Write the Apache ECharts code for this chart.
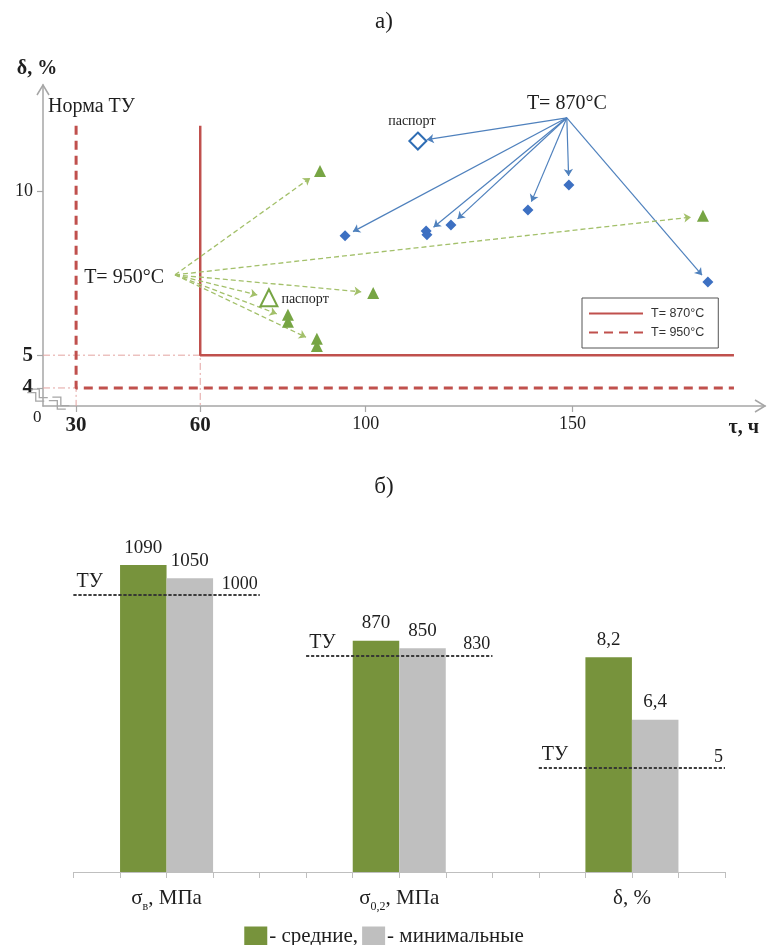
<!DOCTYPE html>
<html><head><meta charset="utf-8">
<script src="https://cdn.jsdelivr.net/npm/echarts@6/dist/echarts.min.js"></script>
<style>html,body{margin:0;padding:0;background:#fff}#c{width:768px;height:945px}</style>
</head><body><div id="c"></div>
<script>
// ---------- data: chart а) ----------
const xTickValues = [30, 60, 100, 150];
const xBoldTicks = [30, 60];
const yTickValues = [4, 5, 10];
const yBoldTicks = [4, 5];
const limit870 = [[60, 12], [60, 5], [189, 5]];
const limit950 = [[30, 12], [30, 4], [189, 4]];
const guide5 = [[22, 5], [60, 5], [60, 3.45]];
const guide4 = [[22, 4], [30, 4], [30, 3.45]];
const diamonds870 = [[95.0, 8.64], [114.6, 8.79], [114.8, 8.67], [120.6, 8.97], [139.2, 9.43], [149.1, 10.19], [182.7, 7.23]];
const passport870 = [[112.6, 11.53]];
const origin870 = [148.6, 12.24];
const arrowTargets870 = [[112.6, 11.53], [95.0, 8.64], [114.7, 8.73], [120.6, 8.97], [139.2, 9.43], [149.1, 10.19], [182.7, 7.23]];
const triangles950 = [[88.95, 10.62], [181.5, 9.25], [101.8, 6.9], [81.2, 6.23], [81.2, 6.02], [88.2, 5.5], [88.2, 5.28]];
const passport950 = [[76.6, 6.75]];
const origin950 = [53.9, 7.45];
const arrowTargets950 = [[88.95, 10.62], [181.5, 9.25], [101.8, 6.9], [76.6, 6.75], [81.2, 6.13], [88.2, 5.39]];

// ---------- data: chart б) ----------
const categories = ['σв, МПа', 'σ0,2, МПа', 'δ, %'];
const categorySubs = ['в', '0,2', ''];
const avgValues = [1090, 870, 8.2];
const minValues = [1050, 850, 6.4];
const tuValues = [1000, 830, 5];
const legendLabels = {'средние': '- средние,', 'минимальные': '- минимальные'};

const SERIF = '"Liberation Serif", "Times New Roman", serif';
const SANS = '"Liberation Sans", Arial, sans-serif';
const TXT = '#1e1e1e';
const RED = '#c0504d';
const fmt = v => String(v).replace('.', ',');

const chart = echarts.init(document.getElementById('c'), null, {renderer: 'canvas'});

const series = [
  {name: 'T= 870°C', type: 'line', xAxisIndex: 0, yAxisIndex: 0, data: limit870, symbol: 'none',
   itemStyle: {color: RED}, lineStyle: {color: RED, width: 2.5}, z: 3, silent: true},
  {name: 'T= 950°C', type: 'line', xAxisIndex: 0, yAxisIndex: 0, data: limit950, symbol: 'none',
   itemStyle: {color: RED}, lineStyle: {color: RED, width: 3, type: [9, 6]}, z: 3, silent: true},
  {name: 'g5', type: 'line', xAxisIndex: 0, yAxisIndex: 0, data: guide5, symbol: 'none',
   lineStyle: {color: '#e3a3a1', width: 1, type: [7, 3, 2, 3]}, z: 2, silent: true},
  {name: 'g4', type: 'line', xAxisIndex: 0, yAxisIndex: 0, data: guide4, symbol: 'none',
   lineStyle: {color: '#e3a3a1', width: 1, type: [7, 3, 2, 3]}, z: 2, silent: true},
  {name: 'd870', type: 'scatter', xAxisIndex: 0, yAxisIndex: 0, data: diamonds870, symbol: 'diamond', symbolSize: 11,
   itemStyle: {color: '#3d70c2', opacity: 1}, z: 5},
  {name: 'p870', type: 'scatter', xAxisIndex: 0, yAxisIndex: 0, data: passport870, symbol: 'diamond', symbolSize: 17,
   itemStyle: {color: '#fff', borderColor: '#2e6db4', borderWidth: 2, opacity: 1}, z: 5,
   label: {show: true, formatter: 'паспорт', position: 'top', distance: 3, offset: [-6, 0],
     fontFamily: SERIF, fontSize: 14, color: TXT}},
  {name: 't950', type: 'scatter', xAxisIndex: 0, yAxisIndex: 0, data: triangles950, symbol: 'triangle', symbolSize: 12,
   itemStyle: {color: '#77a544', opacity: 1}, z: 5},
  {name: 'p950', type: 'scatter', xAxisIndex: 0, yAxisIndex: 0, data: passport950, symbol: 'triangle', symbolSize: 17,
   itemStyle: {color: '#fff', borderColor: '#77a544', borderWidth: 2, opacity: 1}, z: 5,
   label: {show: true, formatter: 'паспорт', position: 'right', distance: 3, offset: [0, 2],
     fontFamily: SERIF, fontSize: 14, color: TXT}},
  {name: 'o870', type: 'scatter', xAxisIndex: 0, yAxisIndex: 0, data: [origin870], symbolSize: 0, z: 6,
   itemStyle: {opacity: 1},
   label: {show: true, formatter: 'T= 870°C', position: 'top', distance: 4, fontFamily: SERIF, fontSize: 20, color: TXT}},
  {name: 'o950', type: 'scatter', xAxisIndex: 0, yAxisIndex: 0, data: [origin950], symbolSize: 0, z: 6,
   itemStyle: {opacity: 1},
   label: {show: true, formatter: 'T= 950°C', position: 'left', distance: 11, offset: [0, 3], fontFamily: SERIF, fontSize: 20, color: TXT}}
];

for (let i = 0; i < categories.length; i++) {
  const barLabel = {show: true, position: 'top', distance: 8, fontFamily: SERIF, fontSize: 19, color: TXT,
    formatter: p => fmt(p.value[1])};
  series.push({
    name: 'средние', type: 'bar', xAxisIndex: 1, yAxisIndex: 1 + i, barWidth: 46.5, barGap: '-100%',
    data: [[1.5 + 5 * i, avgValues[i]]], itemStyle: {color: '#77933c'}, label: barLabel,
    markLine: {
      silent: true, symbol: ['none', 'none'], animation: false,
      lineStyle: {color: '#333', type: [3, 2], width: 1.5},
      label: {show: true, fontFamily: SERIF, color: TXT},
      data: [
        [{coord: [5 * i, tuValues[i]], label: {position: 'insideStartTop', formatter: 'ТУ', fontSize: 20, distance: 3}},
         {coord: [5 * i + 4, tuValues[i]]}],
        [{coord: [5 * i, tuValues[i]], label: {position: 'insideEndTop', formatter: fmt(tuValues[i]), fontSize: 18, distance: 2}},
         {coord: [5 * i + 4, tuValues[i]]}]
      ]
    }
  });
  series.push({
    name: 'минимальные', type: 'bar', xAxisIndex: 1, yAxisIndex: 1 + i, barWidth: 46.5, barGap: '-100%',
    data: [[2.5 + 5 * i, minValues[i]]], itemStyle: {color: '#bfbfbf'}, label: barLabel
  });
}

const axisGray = '#a6a6a6';
const option = {
  animation: false,
  backgroundColor: '#fff',
  title: [
    {text: 'а)', left: 'center', top: 10, padding: 0, textStyle: {fontFamily: SERIF, fontSize: 23, fontWeight: 'normal', color: TXT}},
    {text: 'б)', left: 'center', top: 475, padding: 0, textStyle: {fontFamily: SERIF, fontSize: 23, fontWeight: 'normal', color: TXT}}
  ],
  legend: [
    {data: ['T= 870°C', 'T= 950°C'], orient: 'vertical', left: 582, top: 298, padding: [9, 14, 9, 6], itemGap: 6,
     itemWidth: 54, itemHeight: 14, borderColor: '#555', borderWidth: 1, selectedMode: false,
     itemStyle: {opacity: 0},
     textStyle: {fontFamily: SANS, fontSize: 12.5, color: '#333', padding: [0, 0, 0, 3]}},
    {data: ['средние', 'минимальные'], left: 'center', top: 921, itemGap: 4, itemWidth: 23, itemHeight: 20,
     selectedMode: false, icon: 'rect', formatter: n => legendLabels[n],
     textStyle: {fontFamily: SERIF, fontSize: 21, color: TXT, padding: [0, 0, 0, -3]}}
  ],
  grid: [
    {left: 43, top: 85, width: 722, height: 321},
    {left: 73.5, top: 540, width: 651.5, height: 332}
  ],
  xAxis: [
    {gridIndex: 0, type: 'value', min: 22, max: 196.5, splitLine: {show: false},
     axisLine: {show: true, onZero: false, lineStyle: {color: axisGray, width: 1.5}},
     axisTick: {show: true, customValues: xTickValues, length: 6, lineStyle: {color: axisGray, width: 1.2}},
     axisLabel: {customValues: xTickValues, margin: 9,
       formatter: v => (xBoldTicks.includes(v) ? '{b|' + v + '}' : '{n|' + v + '}'),
       rich: {b: {fontFamily: SERIF, fontSize: 21, fontWeight: 'bold', color: TXT},
              n: {fontFamily: SERIF, fontSize: 18, color: TXT}}},
     name: 'τ, ч', nameLocation: 'end', nameGap: -6,
     nameTextStyle: {fontFamily: SERIF, fontSize: 20, fontWeight: 'bold', color: TXT, align: 'right', verticalAlign: 'top', padding: [12, 0, 0, 0]}},
    {gridIndex: 1, type: 'value', min: 0, max: 14, splitLine: {show: false},
     axisLine: {show: true, onZero: false, lineStyle: {color: '#bfbfbf', width: 1.2}},
     axisTick: {show: true, customValues: Array.from({length: 15}, (_, k) => k), length: 6, lineStyle: {color: '#bfbfbf'}},
     axisLabel: {customValues: [2, 7, 12], margin: 13,
       formatter: v => {
         const k = Math.round((v - 2) / 5);
         const c = categories[k], s = categorySubs[k];
         return '{m|' + (s ? c.replace(s, '}{s|' + s + '}{m|') : c) + '}';
       },
       rich: {m: {fontFamily: SERIF, fontSize: 21, color: TXT, lineHeight: 24, verticalAlign: 'bottom'},
              s: {fontFamily: SERIF, fontSize: 12, color: TXT, lineHeight: 24, verticalAlign: 'bottom', padding: [0, 0, -4, 0]}}}}
  ],
  yAxis: [
    {gridIndex: 0, type: 'value', min: 3.45, max: 13.24, splitLine: {show: false},
     axisLine: {show: true, onZero: false, lineStyle: {color: axisGray, width: 1.5}},
     axisTick: {show: true, customValues: yTickValues, length: 6, lineStyle: {color: axisGray, width: 1.2}},
     axisLabel: {customValues: yTickValues, margin: 10,
       formatter: v => (yBoldTicks.includes(v) ? '{b|' + v + '}' : '{n|' + v + '}'),
       rich: {b: {fontFamily: SERIF, fontSize: 21, fontWeight: 'bold', color: TXT},
              n: {fontFamily: SERIF, fontSize: 18, color: TXT}}},
     name: 'δ, %', nameLocation: 'end', nameGap: 6,
     nameTextStyle: {fontFamily: SERIF, fontSize: 20, fontWeight: 'bold', color: TXT, align: 'center', padding: [0, 12, 0, 0]}},
    {gridIndex: 1, type: 'value', min: 170, max: 1165, show: false},
    {gridIndex: 1, type: 'value', min: 250, max: 1140, show: false},
    {gridIndex: 1, type: 'value', min: 2, max: 11.59, show: false}
  ],
  series: series
};
chart.setOption(option);

// ---------- arrows and decorations, placed through the axes ----------
const f0 = {xAxisIndex: 0, yAxisIndex: 0};
function tip(origin, target, gap) {
  const o = chart.convertToPixel(f0, origin), t = chart.convertToPixel(f0, target);
  const dx = t[0] - o[0], dy = t[1] - o[1], L = Math.hypot(dx, dy);
  return chart.convertFromPixel(f0, [t[0] - dx / L * gap, t[1] - dy / L * gap]);
}
series.push({
  name: 'a870', type: 'lines', coordinateSystem: 'cartesian2d', xAxisIndex: 0, yAxisIndex: 0, z: 4, silent: true,
  symbol: ['none', 'arrow'], symbolSize: 7,
  lineStyle: {color: '#4f81bd', width: 1.2, opacity: 1, curveness: 0},
  data: arrowTargets870.map(t => ({coords: [origin870, tip(origin870, t, 9)]}))
});
series.push({
  name: 'a950', type: 'lines', coordinateSystem: 'cartesian2d', xAxisIndex: 0, yAxisIndex: 0, z: 4, silent: true,
  symbol: ['none', 'arrow'], symbolSize: 7,
  lineStyle: {color: '#a3c06a', width: 1.3, opacity: 1, type: [5, 3], curveness: 0},
  data: arrowTargets950.map(t => ({coords: [origin950, tip(origin950, t, 12)]}))
});

const org = chart.convertToPixel(f0, [22, 3.45]);
const xEnd = chart.convertToPixel(f0, [196.5, 3.45]);
const yEnd = chart.convertToPixel(f0, [22, 13.24]);
const p30 = chart.convertToPixel(f0, [30, 3.45]);
function zig(cx, cy) {
  const base = [[-10, 3], [-4, -3], [2, 3], [8, -3]];
  const out = [];
  [0, 5].forEach(off => {
    out.push({type: 'polyline', silent: true, z: 10,
      shape: {points: base.map(([x, y]) => [cx + (x - (y + off)) * 0.707, cy + (x + (y + off)) * 0.707])},
      style: {stroke: '#a6a6a6', lineWidth: 1.3, fill: null}});
  });
  return out;
}
const graphic = [
  {type: 'text', left: 48, top: 97, silent: true,
   style: {text: 'Норма ТУ', fontFamily: SERIF, fontSize: 20, fill: TXT}},
  {type: 'text', x: org[0] - 10, y: org[1] + 3, silent: true,
   style: {text: '0', fontFamily: SERIF, fontSize: 17, fill: TXT}},
  {type: 'polyline', silent: true, z: 10, shape: {points: [[xEnd[0] - 10, xEnd[1] - 6], xEnd, [xEnd[0] - 10, xEnd[1] + 6]]},
   style: {stroke: axisGray, lineWidth: 1.5, fill: null}},
  {type: 'polyline', silent: true, z: 10, shape: {points: [[yEnd[0] - 6, yEnd[1] + 10], yEnd, [yEnd[0] + 6, yEnd[1] + 10]]},
   style: {stroke: axisGray, lineWidth: 1.5, fill: null}},
  ...zig(org[0] - 3, org[1] - 12),
  ...zig((org[0] + p30[0]) / 2 + 2, org[1] - 4)
];
chart.setOption({series: series, graphic: graphic});
</script></body></html>
